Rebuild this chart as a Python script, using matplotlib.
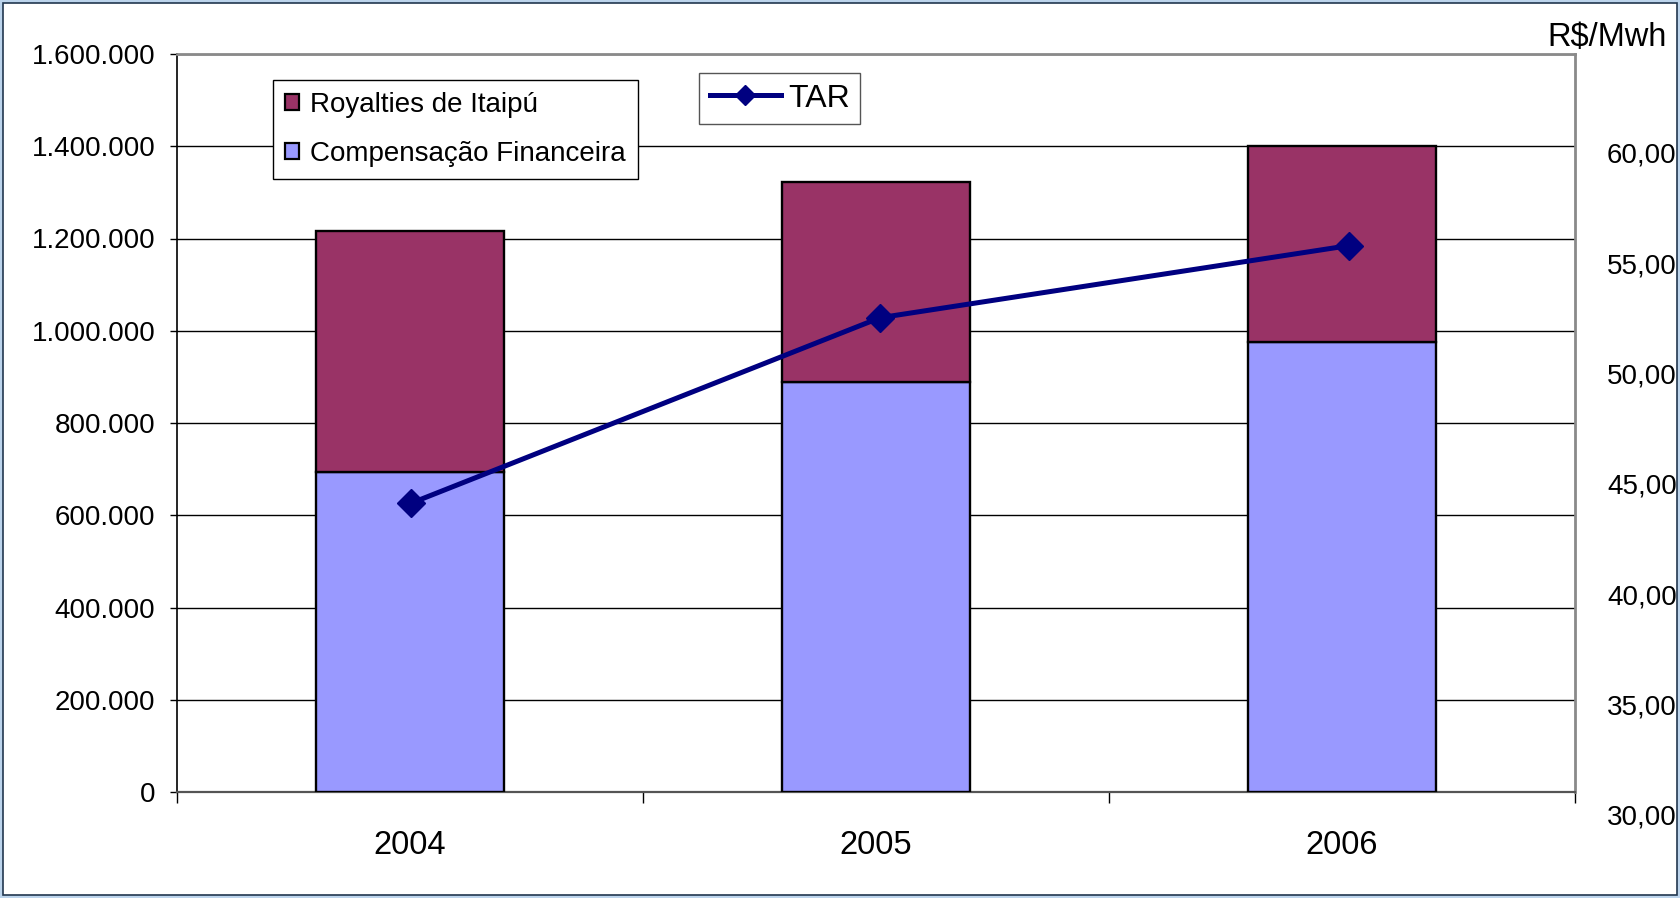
import matplotlib
matplotlib.use("Agg")
import matplotlib.pyplot as plt
from matplotlib.patches import Rectangle, Patch
from matplotlib.lines import Line2D
from matplotlib.ticker import FixedLocator, FuncFormatter

plt.rcParams["font.family"] = ["Liberation Sans", "DejaVu Sans"]

# ---- Data ----
years = ["2004", "2005", "2006"]
compensacao = [693000, 888000, 976000]
royalties = [524000, 435000, 425000]
tar = [44.12, 52.53, 55.80]

left_ticks = [0, 200000, 400000, 600000, 800000, 1000000, 1200000, 1400000, 1600000]
right_ticks = [30, 35, 40, 45, 50, 55, 60]

W, H = 1680, 898
fig = plt.figure(figsize=(W / 100, H / 100), dpi=100)
fig.patch.set_facecolor("#BCD4EC")
fig.patches.append(Rectangle((3 / W, 3 / H), 1 - 6 / W, 1 - 6 / H, transform=fig.transFigure,
                             facecolor="white", edgecolor="#22374F", linewidth=1.2, zorder=-10))


def px_rect(x0, y0, x1, y1):
    # pixel box (top-left origin) -> figure fraction
    return [x0 / W, 1 - y1 / H, (x1 - x0) / W, (y1 - y0) / H]


# ---- Primary axis: stacked bars ----
ax = fig.add_axes(px_rect(177, 54, 1575, 792))
ax.set_facecolor("none")
x = list(range(len(years)))
bw = 0.405
ax.bar(x, compensacao, width=bw, color="#9999FF", edgecolor="black", linewidth=1.7, zorder=3)
ax.bar(x, royalties, width=bw, bottom=compensacao, color="#993366", edgecolor="black",
       linewidth=1.7, zorder=3)

ax.set_xlim(-0.5, 2.5)
ax.set_ylim(0, 1600000)
ax.yaxis.set_major_locator(FixedLocator(left_ticks))
ax.yaxis.set_major_formatter(FuncFormatter(lambda v, p: f"{v:,.0f}".replace(",", ".")))
ax.grid(axis="y", color="black", linewidth=1, zorder=0)
ax.tick_params(axis="y", labelsize=20, length=5, width=1, pad=10.5, direction="out")

ax.set_xticks([-0.5, 0.5, 1.5, 2.5])
ax.set_xticklabels([])
ax.set_xticks(x, minor=True)
ax.set_xticklabels(years, minor=True)
ax.tick_params(axis="x", which="major", length=8, width=1, direction="out")
ax.tick_params(axis="x", which="minor", length=0, labelsize=23.5, pad=27)

ax.spines["left"].set_color("black")
ax.spines["left"].set_linewidth(1.2)
ax.spines["bottom"].set_color("#555555")
ax.spines["bottom"].set_linewidth(1.6)
for s in ("top", "right"):
    ax.spines[s].set_color("#8A8A8A")
    ax.spines[s].set_linewidth(2)

bar_handles = [Patch(facecolor="#993366", edgecolor="black", linewidth=1.6),
               Patch(facecolor="#9999FF", edgecolor="black", linewidth=1.6)]
leg1 = ax.legend(bar_handles, ["Royalties de Itaipú", "Compensação Financeira"],
                 loc="upper left", bbox_to_anchor=(273 / W, 1 - 80 / H),
                 bbox_transform=fig.transFigure, borderaxespad=0, fontsize=20,
                 frameon=True, fancybox=False, framealpha=1, edgecolor="black",
                 handlelength=0.5, handleheight=0.5, handletextpad=0.38,
                 labelspacing=0.82, borderpad=0.44)
leg1.get_frame().set_linewidth(1)

# ---- Secondary axis: TAR line ----
ax2 = fig.add_axes(px_rect(176, 42.5, 1584, 815))
ax2.patch.set_visible(False)
for s in ax2.spines.values():
    s.set_visible(False)
ax2.plot(x, tar, color="#000080", linewidth=3.6, marker="D", markersize=14,
         markerfacecolor="#000080", markeredgecolor="#000080", zorder=5, clip_on=False)
ax2.set_xlim(-0.5, 2.5)
ax2.set_ylim(30, 65)
ax2.set_xticks([])
ax2.yaxis.tick_right()
ax2.yaxis.set_major_locator(FixedLocator(right_ticks))
ax2.yaxis.set_major_formatter(FuncFormatter(lambda v, p: f"{v:.2f}".replace(".", ",")))
ax2.tick_params(axis="y", labelsize=20, length=0, pad=16.5)
ax2.tick_params(axis="y", left=False, labelleft=False)

fig.text(1667 / W, 1 - 46 / H, "R$/Mwh", fontsize=23.5, ha="right", va="baseline")

tar_handle = Line2D([], [], color="#000080", linewidth=3.6, marker="D", markersize=10.5)
leg2 = ax2.legend([tar_handle], ["TAR"], loc="upper left",
                  bbox_to_anchor=(699 / W, 1 - 73 / H), bbox_transform=fig.transFigure,
                  borderaxespad=0, fontsize=23, frameon=True, fancybox=False,
                  framealpha=1, edgecolor="#555555", handlelength=2.25,
                  handletextpad=0.2, borderpad=0.33)
leg2.get_frame().set_linewidth(1)

fig.savefig("out.png", dpi=100, facecolor=fig.get_facecolor())
